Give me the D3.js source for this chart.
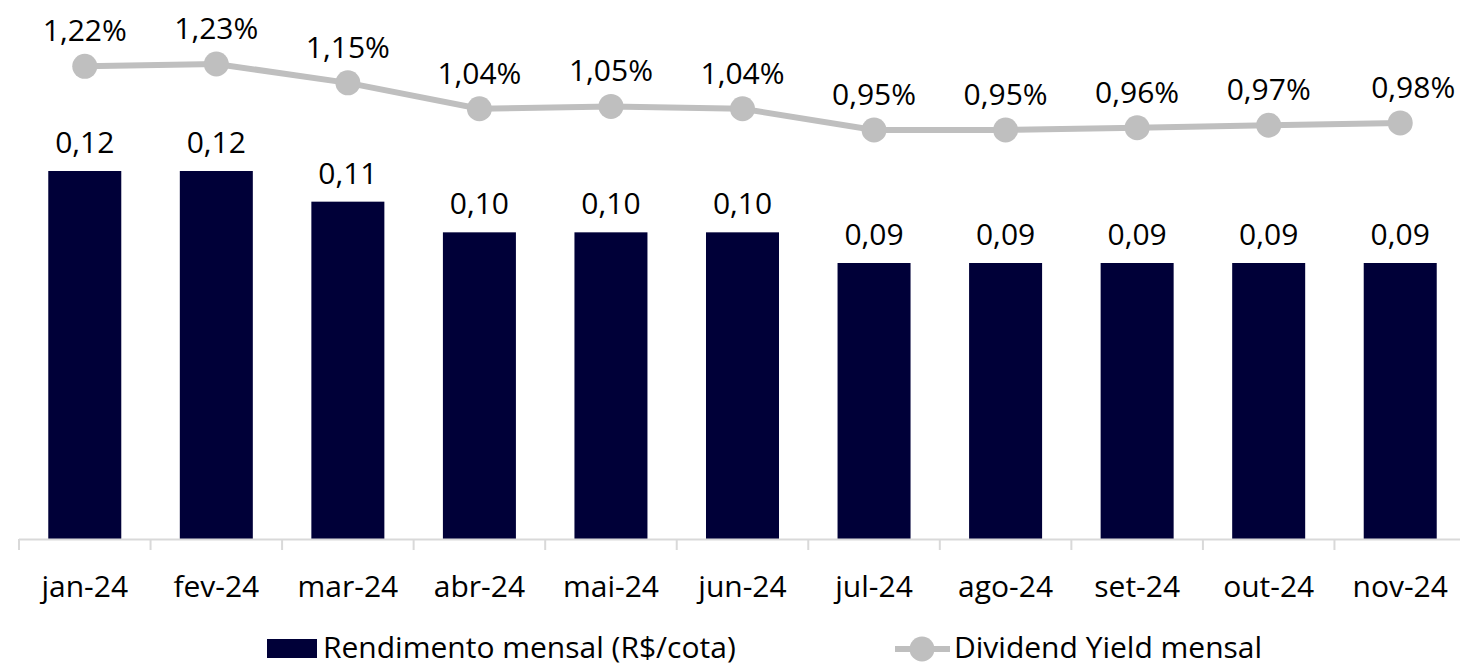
<!DOCTYPE html>
<html>
<head>
<meta charset="utf-8">
<script src="https://cdn.jsdelivr.net/npm/d3@7"></script>
<style>
  html, body { margin: 0; padding: 0; background: #fff; }
  svg { display: block; }
  text { font-family: "Open Sans", "Noto Sans", sans-serif; fill: #000; }
</style>
</head>
<body>
<svg id="chart" width="1460" height="664"></svg>
<script>
const categories = ["jan-24","fev-24","mar-24","abr-24","mai-24","jun-24","jul-24","ago-24","set-24","out-24","nov-24"];
const rendimento = [0.12, 0.12, 0.11, 0.10, 0.10, 0.10, 0.09, 0.09, 0.09, 0.09, 0.09];
const dividendYield = [1.22, 1.23, 1.15, 1.04, 1.05, 1.04, 0.95, 0.95, 0.96, 0.97, 0.98];
const seriesNames = ["Rendimento mensal (R$/cota)", "Dividend Yield mensal"];

const barColor = "#000038";
const lineColor = "#BFBFBF";
const axisColor = "#D9D9D9";
const fontSize = 30;

const svg = d3.select("#chart");

const x = d3.scaleBand().domain(categories).range([19, 1466]).paddingInner(0.445).paddingOuter(0.2225);
const yBar = d3.scaleLinear().domain([0, 0.12]).range([539, 171]);
const yLine = d3.scaleLinear().domain([0.95, 1.23]).range([130, 64]);

const fmt2 = v => d3.format(".2f")(v).replace(".", ",");

// bars
svg.append("g").selectAll("rect").data(categories).join("rect")
  .attr("x", d => x(d))
  .attr("y", (d, i) => yBar(rendimento[i]))
  .attr("width", x.bandwidth())
  .attr("height", (d, i) => yBar(0) - yBar(rendimento[i]))
  .attr("fill", barColor);

// bar labels
svg.append("g").selectAll("text").data(categories).join("text")
  .attr("x", d => x(d) + x.bandwidth() / 2)
  .attr("y", (d, i) => yBar(rendimento[i]) - 18)
  .attr("text-anchor", "middle")
  .attr("font-size", fontSize)
  .text((d, i) => fmt2(rendimento[i]));

// x axis
const step = x.step();
const x0 = x.range()[0];
const axisG = svg.append("g");
axisG.append("line")
  .attr("x1", x0).attr("x2", x.range()[1])
  .attr("y1", 539.5).attr("y2", 539.5)
  .attr("stroke", axisColor).attr("stroke-width", 2);
axisG.selectAll("line.tick").data(d3.range(categories.length + 1)).join("line")
  .attr("class", "tick")
  .attr("x1", i => x0 + i * step).attr("x2", i => x0 + i * step)
  .attr("y1", 539).attr("y2", 550)
  .attr("stroke", axisColor).attr("stroke-width", 2);
const xAxis = d3.axisBottom(x).tickSize(0).tickPadding(0);
const xg = svg.append("g").attr("transform", "translate(0,539)").call(xAxis);
xg.select(".domain").remove();
xg.selectAll("text")
  .attr("font-size", fontSize)
  .attr("font-family", null)
  .attr("fill", "#000")
  .attr("dy", null)
  .attr("y", 58);

// line
const pts = categories.map((c, i) => [x(c) + x.bandwidth() / 2, yLine(dividendYield[i])]);
svg.append("path")
  .attr("d", d3.line()(pts))
  .attr("fill", "none")
  .attr("stroke", lineColor)
  .attr("stroke-width", 6);
svg.append("g").selectAll("circle").data(pts).join("circle")
  .attr("cx", d => d[0]).attr("cy", d => d[1]).attr("r", 12.5)
  .attr("fill", lineColor);
svg.append("g").selectAll("text").data(categories).join("text")
  .attr("x", (d, i) => pts[i][0])
  .attr("dx", (d, i) => i === categories.length - 1 ? 13 : 0)
  .attr("y", (d, i) => pts[i][1] - 25)
  .attr("text-anchor", "middle")
  .attr("font-size", fontSize)
  .text((d, i) => fmt2(dividendYield[i]) + "%");

// legend
const lg = svg.append("g");
lg.append("rect").attr("x", 267).attr("y", 639).attr("width", 50).attr("height", 19).attr("fill", barColor);
lg.append("text").attr("x", 323).attr("y", 658).attr("font-size", fontSize).text(seriesNames[0]);
lg.append("line").attr("x1", 895).attr("x2", 950).attr("y1", 649).attr("y2", 649)
  .attr("stroke", lineColor).attr("stroke-width", 6);
lg.append("circle").attr("cx", 922).attr("cy", 649).attr("r", 12.5).attr("fill", lineColor);
lg.append("text").attr("x", 954).attr("y", 658).attr("font-size", fontSize).text(seriesNames[1]);
</script>
</body>
</html>
